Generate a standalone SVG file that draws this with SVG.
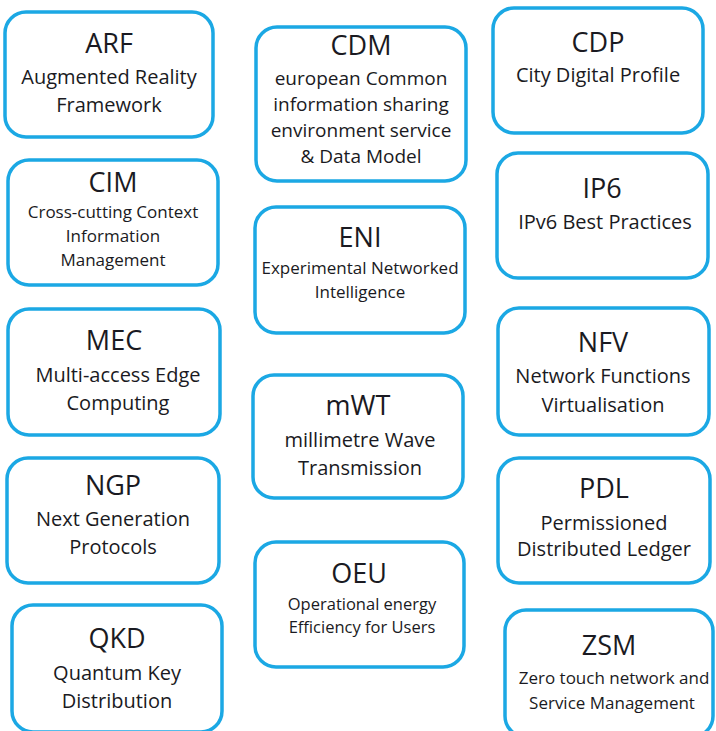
<svg xmlns="http://www.w3.org/2000/svg" width="716" height="731" viewBox="0 0 716 731">
<style>
rect.b{fill:#fff;stroke:#1BA8E4;stroke-width:3.5}
text{font-family:"Open Sans","Noto Sans",sans-serif;fill:#1a1a22;text-anchor:middle}
.t{font-size:27px}
.s{font-size:20px}
.m{font-size:19px}
.x{font-size:17px}
.y{font-size:16.5px}
</style>
<rect width="716" height="731" fill="#fff"/>
<g id="connectors"/>
<g id="ARF"><rect class="b" x="5" y="12" width="208" height="125" rx="21"/>
<text class="t" x="109" y="53">ARF</text>
<text class="s" x="109" y="84">Augmented Reality</text>
<text class="s" x="109" y="112">Framework</text></g>
<g id="CDM"><rect class="b" x="256" y="27" width="210" height="154" rx="21"/>
<text class="t" x="361" y="55">CDM</text>
<text class="m" x="361" y="85">european Common</text>
<text class="m" x="361" y="111">information sharing</text>
<text class="m" x="361" y="137">environment service</text>
<text class="m" x="361" y="163">&amp; Data Model</text></g>
<g id="CDP"><rect class="b" x="493" y="8" width="210" height="125" rx="21"/>
<text class="t" x="598" y="52">CDP</text>
<text class="s" x="598" y="82">City Digital Profile</text></g>
<g id="CIM"><rect class="b" x="8" y="160" width="210" height="125" rx="21"/>
<text class="t" x="113" y="192">CIM</text>
<text class="x" x="113" y="218">Cross-cutting Context</text>
<text class="x" x="113" y="242">Information</text>
<text class="x" x="113" y="266">Management</text></g>
<g id="ENI"><rect class="b" x="255" y="207" width="210" height="126" rx="21"/>
<text class="t" x="360" y="247">ENI</text>
<text class="x" x="360" y="274">Experimental Networked</text>
<text class="x" x="360" y="298">Intelligence</text></g>
<g id="IP6"><rect class="b" x="497" y="153" width="211" height="125" rx="21"/>
<text class="t" x="602" y="198">IP6</text>
<text class="s" x="605" y="229">IPv6 Best Practices</text></g>
<g id="MEC"><rect class="b" x="8" y="309" width="212" height="126" rx="21"/>
<text class="t" x="114" y="350">MEC</text>
<text class="s" x="118" y="382">Multi-access Edge</text>
<text class="s" x="118" y="410">Computing</text></g>
<g id="mWT"><rect class="b" x="253" y="375" width="210" height="123" rx="21"/>
<text class="t" x="358" y="415">mWT</text>
<text class="s" x="360" y="447">millimetre Wave</text>
<text class="s" x="360" y="475">Transmission</text></g>
<g id="NFV"><rect class="b" x="498" y="308" width="211" height="127" rx="21"/>
<text class="t" x="603" y="352">NFV</text>
<text class="s" x="603" y="383">Network Functions</text>
<text class="s" x="603" y="412">Virtualisation</text></g>
<g id="NGP"><rect class="b" x="7" y="458" width="212" height="125" rx="21"/>
<text class="t" x="113" y="495">NGP</text>
<text class="s" x="113" y="526">Next Generation</text>
<text class="s" x="113" y="554">Protocols</text></g>
<g id="QKD"><rect class="b" x="12" y="605" width="210" height="127" rx="21"/>
<text class="t" x="117" y="648">QKD</text>
<text class="s" x="117" y="680">Quantum Key</text>
<text class="s" x="117" y="708">Distribution</text></g>
<g id="OEU"><rect class="b" x="255" y="542" width="209" height="125" rx="21"/>
<text class="t" x="359" y="583">OEU</text>
<text class="y" x="362" y="610">Operational energy</text>
<text class="y" x="362" y="633">Efficiency for Users</text></g>
<g id="PDL"><rect class="b" x="498" y="458" width="212" height="125" rx="21"/>
<text class="t" x="604" y="498">PDL</text>
<text class="s" x="604" y="530">Permissioned</text>
<text class="s" x="604" y="556">Distributed Ledger</text></g>
<g id="ZSM"><rect class="b" x="505" y="610" width="208" height="127" rx="21"/>
<text class="t" x="609" y="655">ZSM</text>
<text class="x" x="614" y="684">Zero touch network and</text>
<text class="x" x="612" y="709">Service Management</text></g>
</svg>
